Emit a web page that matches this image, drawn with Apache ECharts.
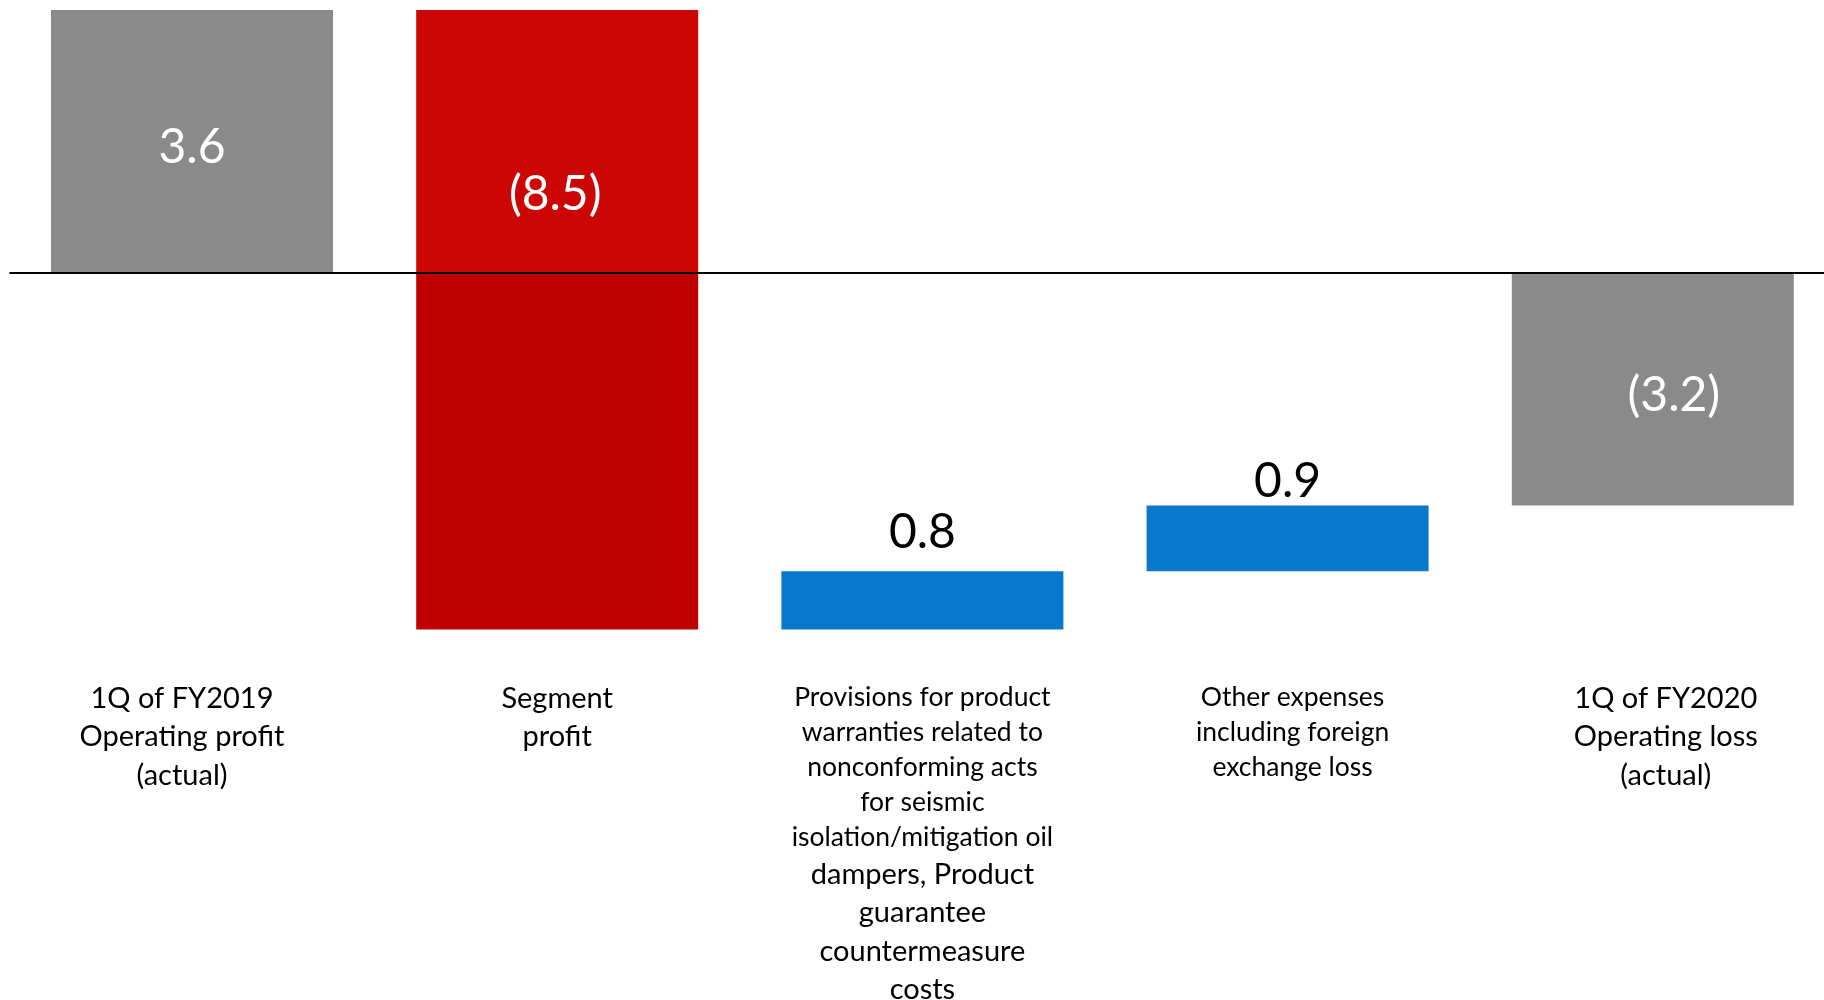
<!DOCTYPE html>
<html><head><meta charset="utf-8">
<script src="https://cdn.jsdelivr.net/npm/echarts@6/dist/echarts.min.js"></script>
<style>html,body{margin:0;padding:0;background:#fff}#c{width:1824px;height:1000px}</style>
</head><body><div id="c"></div>
<script>
// ---- data ----
const categories = [
  '1Q of FY2019\nOperating profit\n(actual)',
  'Segment\nprofit',
  'Provisions for product\nwarranties related to\nnonconforming acts\nfor seismic\nisolation/mitigation oil\ndampers, Product\nguarantee\ncountermeasure\ncosts',
  'Other expenses\nincluding foreign\nexchange loss',
  '1Q of FY2020\nOperating loss\n(actual)'
];
const changes = [3.6, -8.5, 0.8, 0.9, -3.2];
const isTotal = [true, false, false, false, true];
const smallLineCount = [0, 0, 5, 3, 0];

// ---- derived waterfall segments ----
const lows = [], highs = [];
let run = 0;
changes.forEach((c, i) => {
  let s, e;
  if (isTotal[i]) { s = 0; e = c; run = c; }
  else { s = run; e = +(run + c).toFixed(10); run = e; }
  lows.push(Math.min(s, e)); highs.push(Math.max(s, e));
});
const COLORS = { total: ['#8A8A8A', '#8A8A8A'], down: ['#CC0605', '#C00000'], up: ['#0778CC', '#0778CC'] };
const kind = i => isTotal[i] ? 'total' : (changes[i] < 0 ? 'down' : 'up');
const fmt = v => v < 0 ? '(' + Math.abs(v).toFixed(1) + ')' : v.toFixed(1);
const labelOpts = [
  { position: 'inside', offset: [0, 6], color: '#fff' },
  { position: 'inside', offset: [-2, 53], color: '#fff' },
  { position: 'top', distance: 15, color: '#000' },
  { position: 'top', distance: 0, color: '#000' },
  { position: 'inside', offset: [21, 7], color: '#fff' }
];
const labelShift = [-10, 0, 0, 5, 13];
const valueFont = { fontFamily: 'Lato', fontSize: 48 };

const helper = [], pos = [], neg = [];
categories.forEach((_, i) => {
  const lo = lows[i], hi = highs[i];
  let h = lo >= 0 ? lo : (hi <= 0 ? hi : 0);
  helper.push(h === 0 ? '-' : h);
  const p = lo >= 0 ? hi - lo : (hi > 0 ? hi : null);
  const n = hi <= 0 ? lo - hi : (lo < 0 ? lo : null);
  const k = kind(i);
  const labelOnPos = p !== null && p !== 0;
  const mkLabel = (show) => show ? Object.assign({ show: true, formatter: () => fmt(changes[i]) }, valueFont, labelOpts[i]) : { show: false };
  pos.push(p === null || p === 0 ? '-' : { value: p, itemStyle: { color: COLORS[k][0] }, label: mkLabel(labelOnPos) });
  neg.push(n === null || n === 0 ? '-' : { value: n, itemStyle: { color: COLORS[k][1] }, label: mkLabel(!labelOnPos) });
});

const rich = {};
categories.forEach((_, i) => {
  const sh = labelShift[i];
  const pad = sh >= 0 ? [0, 0, 0, 2 * sh] : [0, -2 * sh, 0, 0];
  rich['s' + i] = { fontFamily: 'Lato', fontSize: 26.5, lineHeight: 35.2, color: '#000', padding: pad };
  rich['b' + i] = { fontFamily: 'Lato', fontSize: 29, lineHeight: 38.4, color: '#000', padding: pad };
});

const chart = echarts.init(document.getElementById('c'));
chart.setOption({
  animation: false,
  backgroundColor: '#fff',
  grid: { left: 9.4, right: -11.4, top: 10, bottom: 370.5, containLabel: false, outerBoundsMode: 'none' },
  xAxis: {
    type: 'category',
    data: categories,
    position: 'bottom',
    axisLine: { show: false, onZero: false },
    axisTick: { show: false },
    splitLine: { show: false },
    axisLabel: {
      interval: 0,
      margin: 50,
      color: '#000',
      formatter: (v, i) => v.split('\n').map((l, j) => '{' + (j < smallLineCount[i] ? 's' : 'b') + i + '|' + l + '}').join('\n'),
      rich: rich
    }
  },
  yAxis: {
    type: 'value', min: -4.9, max: 3.6,
    axisLine: { show: false }, axisTick: { show: false }, axisLabel: { show: false }, splitLine: { show: false }
  },
  series: [
    {
      type: 'bar', stack: 'wf', barWidth: 282, data: helper, silent: true,
      itemStyle: { color: 'rgba(0,0,0,0)' },
      markLine: {
        silent: true, symbol: 'none', label: { show: false },
        lineStyle: { color: '#000', width: 2, type: 'solid' },
        data: [{ yAxis: 0 }]
      }
    },
    { type: 'bar', stack: 'wf', barWidth: 282, data: pos },
    { type: 'bar', stack: 'wf', barWidth: 282, data: neg }
  ]
});
</script>
</body></html>
